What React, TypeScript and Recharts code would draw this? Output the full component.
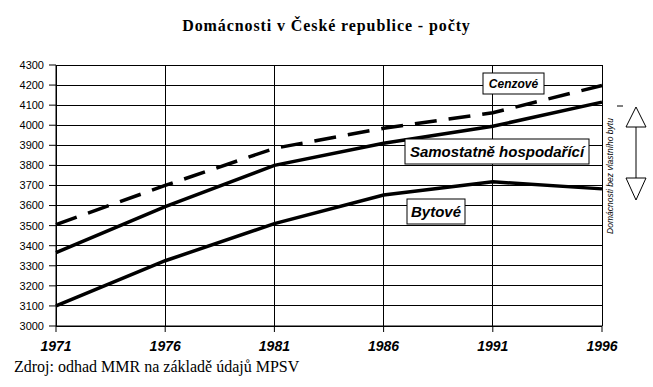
import React from "react";
import {
  LineChart,
  Line,
  XAxis,
  YAxis,
  CartesianGrid,
} from "recharts";

const YEARS = [1971, 1976, 1981, 1986, 1991, 1996];
const CENZOVE = [3505, 3700, 3885, 3985, 4062, 4198];
const SAMOSTATNE = [3365, 3595, 3800, 3910, 3995, 4115];
const BYTOVE = [3100, 3325, 3510, 3652, 3718, 3683];
const Y_TICKS = [3000, 3100, 3200, 3300, 3400, 3500, 3600, 3700, 3800, 3900, 4000, 4100, 4200, 4300];

const data = YEARS.map((year, i) => ({
  year,
  cenzove: CENZOVE[i],
  samostatne: SAMOSTATNE[i],
  bytove: BYTOVE[i],
}));

const W = 653;
const H = 387;
const sans = "'Liberation Sans', Arial, sans-serif";
const serif = "'Liberation Serif', 'Times New Roman', serif";

function XTick({ x, y, payload }: any) {
  return (
    <text
      x={x}
      y={y + 17}
      textAnchor="middle"
      fontFamily={sans}
      fontSize={14}
      fontWeight="bold"
      fontStyle="italic"
      fill="#000"
    >
      {payload.value}
    </text>
  );
}

function Box({ x, y, w, h, text, size }: { x: number; y: number; w: number; h: number; text: string; size: number }) {
  return (
    <g>
      <rect x={x} y={y} width={w} height={h} fill="#fff" stroke="#000" strokeWidth={1} />
      <text
        x={x + w / 2}
        y={y + h / 2 + size * 0.36}
        textAnchor="middle"
        fontFamily={sans}
        fontSize={size}
        fontWeight="bold"
        fontStyle="italic"
        fill="#000"
      >
        {text}
      </text>
    </g>
  );
}

export default function App() {
  return (
    <div style={{ position: "absolute", left: 0, top: 0, width: W, height: H, background: "#fff" }}>
      <div
        style={{
          position: "absolute",
          top: 17,
          left: 0,
          width: W,
          textAlign: "center",
          fontFamily: serif,
          fontWeight: "bold",
          fontSize: 16,
          letterSpacing: 0.9,
          lineHeight: "18px",
        }}
      >
        Domácnosti v České republice - počty
      </div>
      <LineChart
        width={W}
        height={H}
        data={data}
        margin={{ top: 65, right: 51, bottom: 31, left: 0 }}
      >
        <CartesianGrid stroke="#000" strokeWidth={1} shapeRendering="crispEdges" horizontal vertical />
        <XAxis
          dataKey="year"
          type="number"
          domain={[1971, 1996]}
          ticks={YEARS}
          height={30}
          stroke="#000"
          tickSize={6}
          tick={<XTick />}
        />
        <YAxis
          domain={[3000, 4300]}
          ticks={Y_TICKS}
          width={56}
          stroke="#000"
          tickSize={7}
          tickMargin={5}
          interval={0}
          tick={{ fontFamily: sans, fontSize: 11, fill: "#000" }}
        />
        <Line
          dataKey="cenzove"
          stroke="#000"
          strokeWidth={3.5}
          strokeDasharray="22 12"
          dot={false}
          isAnimationActive={false}
        />
        <Line
          dataKey="samostatne"
          stroke="#000"
          strokeWidth={3.5}
          dot={false}
          isAnimationActive={false}
        />
        <Line
          dataKey="bytove"
          stroke="#000"
          strokeWidth={3.5}
          dot={false}
          isAnimationActive={false}
        />
      </LineChart>
      <svg
        width={W}
        height={H}
        style={{ position: "absolute", left: 0, top: 0, pointerEvents: "none" }}
      >
        <Box x={483} y={73} w={61} h={21} text="Cenzové" size={12} />
        <Box x={405} y={139} w={184} h={25} text="Samostatně hospodařící" size={15} />
        <Box x={407} y={199} w={58} h={25} text="Bytové" size={15} />
        <text
          transform="translate(613,176) rotate(-90)"
          textAnchor="middle"
          fontFamily={sans}
          fontSize={8.5}
          fontStyle="italic"
          fill="#000"
        >
          Domácnosti bez vlastního bytu
        </text>
        <line x1={617} y1={106} x2={623} y2={106} stroke="#000" strokeWidth={1} />
        <polygon points="636,107 626,127 646,127" fill="#fff" stroke="#000" strokeWidth={1} />
        <line x1={636} y1={127} x2={636} y2={178} stroke="#000" strokeWidth={1} />
        <polygon points="626,178 646,178 636,200" fill="#fff" stroke="#000" strokeWidth={1} />
      </svg>
      <div
        style={{
          position: "absolute",
          top: 358,
          left: 14,
          fontFamily: serif,
          fontSize: 16,
          lineHeight: "18px",
        }}
      >
        Zdroj: odhad MMR na základě údajů MPSV
      </div>
    </div>
  );
}
